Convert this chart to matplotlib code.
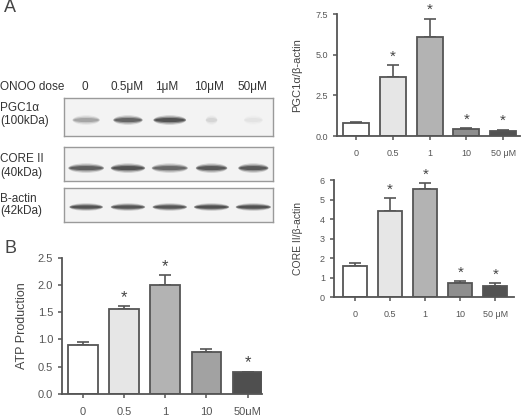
import matplotlib
matplotlib.use("Agg")
import matplotlib.pyplot as plt
from matplotlib.patches import Ellipse

plt.rcParams["font.family"] = ["Liberation Sans", "DejaVu Sans"]

W, H = 522, 415

# ---- data ----
dose_ticks = ["0", "0.5", "1", "10", "50 \u03bcM"]
atp_ticks = ["0", "0.5", "1", "10", "50\u03bcM"]
lane_labels = ["0", "0.5\u03bcM", "1\u03bcM", "10\u03bcM", "50\u03bcM"]

pgc_mean = [0.80, 3.65, 6.10, 0.43, 0.33]
pgc_err = [0.06, 0.72, 1.12, 0.07, 0.06]
pgc_sig = [False, True, True, True, True]

core_mean = [1.60, 4.43, 5.55, 0.72, 0.60]
core_err = [0.17, 0.65, 0.33, 0.12, 0.12]
core_sig = [False, True, True, True, True]

atp_mean = [0.89, 1.56, 2.00, 0.77, 0.40]
atp_err = [0.06, 0.05, 0.18, 0.05, 0.01]
atp_sig = [False, True, True, False, True]

# blot band darkness per lane (0 = absent, 1 = black)
pgc_band = [0.35, 0.75, 0.90, 0.12, 0.06]
core_band = [0.80, 0.90, 0.72, 0.85, 0.85]
actin_band = [0.90, 0.88, 0.88, 0.92, 0.92]

bar_colors = ["#ffffff", "#e6e6e6", "#b3b3b3", "#8e8e8e", "#525252"]
atp_colors = ["#ffffff", "#e6e6e6", "#b3b3b3", "#a2a2a2", "#4f4f4f"]
EDGE = "#555555"


def px_axes(fig, x0, y0, x1, y1):
    """axes from pixel box (top-left origin)"""
    return fig.add_axes([x0 / W, 1 - y1 / H, (x1 - x0) / W, (y1 - y0) / H])


def bar_panel(ax, mean, err, sig, colors, ticks, yticks, yticklabels,
              ylabel, xlim, width, fs, lfs, lab_x, sfs):
    xs = range(len(mean))
    ax.bar(xs, mean, width=width, color=colors, edgecolor=EDGE, linewidth=1.3, zorder=2)
    ax.errorbar(xs, mean, yerr=[[0] * len(err), err], fmt="none", ecolor=EDGE,
                elinewidth=1.2, capsize=4, capthick=1.2, zorder=1)
    for i, s in enumerate(sig):
        if s:
            ax.annotate("*", (i, mean[i] + err[i]), xytext=(0, 1),
                        textcoords="offset points", ha="center", va="bottom",
                        fontsize=sfs, color="#444444", annotation_clip=False)
    ax.set_xlim(*xlim)
    ax.set_ylim(0, yticks[-1])
    ax.set_xticks(list(xs))
    ax.set_xticklabels(ticks)
    ax.set_yticks(yticks)
    ax.set_yticklabels(yticklabels)
    ax.set_ylabel(ylabel, fontsize=lfs, color="#444444")
    ax.yaxis.set_label_coords(lab_x, 0.5)
    for s in ["top", "right"]:
        ax.spines[s].set_visible(False)
    for s in ["left", "bottom"]:
        ax.spines[s].set_color(EDGE)
        ax.spines[s].set_linewidth(1.3)
    ax.tick_params(axis="both", colors=EDGE, labelcolor="#555555", labelsize=fs,
                   length=3, width=1.1)
    ax.tick_params(axis="x", pad=6)
    ax.set_facecolor("none")


fig = plt.figure(figsize=(W / 100, H / 100), dpi=100)

# ---- panel A: PGC1a quantification ----
ax = px_axes(fig, 337, 14, 520, 136)
bar_panel(ax, pgc_mean, pgc_err, pgc_sig, bar_colors, dose_ticks,
          [0, 2.5, 5.0, 7.5], ["0.0", "2.5", "5.0", "7.5"],
          "PGC1\u03b1/\u03b2-actin", (-0.52, 4.46), 0.71, 6.5, 8, -0.19, 11)

# ---- panel A: CORE II quantification ----
ax = px_axes(fig, 334, 180.5, 514, 297.3)
bar_panel(ax, core_mean, core_err, core_sig, bar_colors, dose_ticks,
          [0, 1, 2, 3, 4, 5, 6], ["0", "1", "2", "3", "4", "5", "6"],
          "CORE II/\u03b2-actin", (-0.6, 4.53), 0.68, 6.5, 7.5, -0.17, 11)

# ---- panel B: ATP ----
ax = px_axes(fig, 62, 257.7, 262, 394)
bar_panel(ax, atp_mean, atp_err, atp_sig, atp_colors, atp_ticks,
          [0, 0.5, 1.0, 1.5, 2.0, 2.5], ["0.0", "0.5", "1.0", "1.5", "2.0", "2.5"],
          "ATP Production", (-0.51, 4.35), 0.72, 8, 9, -0.17, 12)

# ---- western blot strips ----
strips = [
    (98, 136, pgc_band, 0.42, [0.65, 0.70, 0.78, 0.28, 0.45], 0.18),
    (147, 181, core_band, 0.38, [0.85, 0.82, 0.86, 0.75, 0.72], 0.20),
    (188, 222, actin_band, 0.44, [0.80, 0.82, 0.82, 0.84, 0.84], 0.16),
]
for y0, y1, band, yc, widths, hgt in strips:
    bx = px_axes(fig, 64, y0, 273, y1)
    bx.set_xlim(-0.53, 4.47)
    bx.set_ylim(0, 1)
    bx.set_facecolor("#f3f3f3")
    for s in bx.spines.values():
        s.set_color("#9a9a9a")
        s.set_linewidth(1.0)
    bx.set_xticks([])
    bx.set_yticks([])
    for i, v in enumerate(band):
        for k, a in [(1.4, 0.3), (1.0, 0.6), (0.6, 0.9)]:
            bx.add_patch(Ellipse((i, yc), widths[i] * min(1.0, 0.85 + 0.15 * k),
                                 hgt * k, facecolor="#1e1e1e", edgecolor="none",
                                 alpha=v * a * 0.65))

txt = dict(fontsize=8.5, color="#333333")
fig.text(0, 1 - 87 / H, "ONOO dose", va="center", **txt)
for xc, lab in zip([85, 127, 167, 209, 252], lane_labels):
    fig.text(xc / W, 1 - 87 / H, lab, ha="center", va="center", **txt)
for yy, lab in [(108, "PGC1\u03b1"), (121, "(100kDa)"), (159, "CORE II"),
                (173, "(40kDa)"), (199, "B-actin"), (211, "(42kDa)")]:
    fig.text(0, 1 - yy / H, lab, va="center", **txt)

fig.text(4 / W, 1 - 8 / H, "A", fontsize=13, color="#444444", va="center")
fig.text(4 / W, 1 - 248 / H, "B", fontsize=13, color="#444444", va="center")

fig.savefig("out.png", dpi=100)
